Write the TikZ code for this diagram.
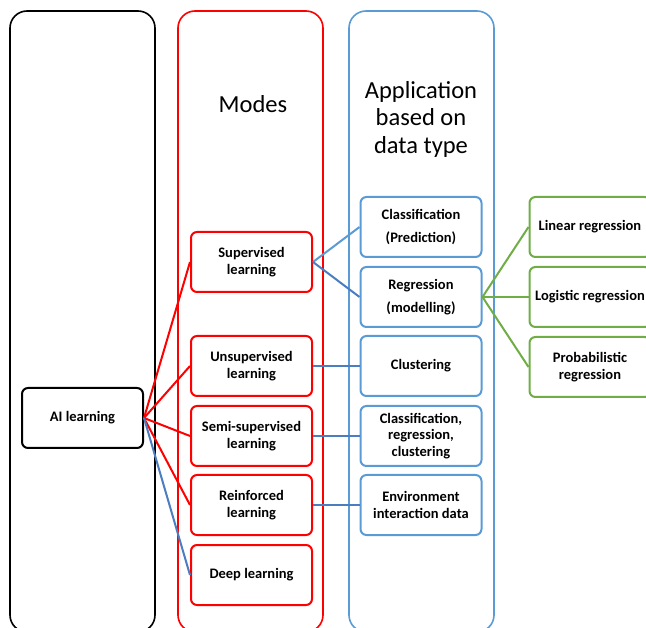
\documentclass[tikz,border=0pt]{standalone}
\usepackage{fontspec}
\setmainfont{Carlito}
\definecolor{boxred}{RGB}{255,0,0}
\definecolor{boxblue}{RGB}{91,155,213}
\definecolor{lineblue}{RGB}{74,126,192}
\definecolor{boxgreen}{RGB}{112,173,71}
\tikzset{
  column/.style={draw,line width=1.6pt,rounded corners=17pt,minimum width=145pt,minimum height=621pt},
  item/.style={draw,line width=2pt,rounded corners=6pt,minimum width=121pt,minimum height=60pt,
    align=center,text=black,font=\fontsize{14.5}{16.5}\selectfont\bfseries},
  title/.style={align=center,font=\fontsize{24.5}{27.5}\selectfont},
  link/.style={line width=2pt}
}

\begin{document}
\begin{tikzpicture}[x=1pt,y=-1pt]
\clip (0,0) rectangle (646,628);
% columns
\node[column,draw=black] (colai) at (82.5,321.5){};
\node[column,draw=boxred] (colmodes) at (250.5,321.5){};
\node[column,draw=boxblue] (colapp) at (421.5,321.5){};
\node[title] (tmodes) at (253,104){Modes};
\node[title] (tapp) at (421,119){Application\\based on\\data type};
% AI learning
\node[item,draw=black] (ai) at (82.5,418){AI learning};
% modes
\node[item,draw=boxred] (sup) at (251.5,262){Supervised\\learning};
\node[item,draw=boxred] (unsup) at (251.5,366){Unsupervised\\learning};
\node[item,draw=boxred] (semi) at (251.5,436){Semi-supervised\\learning};
\node[item,draw=boxred] (reinf) at (251.5,505){Reinforced\\learning};
\node[item,draw=boxred] (deep) at (251.5,575){Deep learning};
% applications
\node[item,draw=boxblue] (class) at (421,227){Classification\\[6pt](Prediction)};
\node[item,draw=boxblue] (regr) at (421,297){Regression\\[6pt](modelling)};
\node[item,draw=boxblue] (clust) at (421,366){Clustering};
\node[item,draw=boxblue] (mixed) at (421,436){Classification,\\regression,\\clustering};
\node[item,draw=boxblue] (env) at (421,505){Environment\\interaction data};
% regression types
\node[item,draw=boxgreen] (lin) at (590,227){Linear regression};
\node[item,draw=boxgreen] (logi) at (590,297){Logistic regression};
\node[item,draw=boxgreen] (prob) at (590,367){Probabilistic\\regression};
% connectors
\foreach \m in {sup,unsup,semi,reinf}
  \draw[link,boxred] (ai.east) -- (\m.west);
\draw[link,lineblue] (ai.east) -- (deep.west);
\draw[link,boxblue] (sup.east) -- (class.west);
\draw[link,lineblue] (sup.east) -- (regr.west);
\draw[link,lineblue] (unsup.east) -- (clust.west);
\draw[link,lineblue] (semi.east) -- (mixed.west);
\draw[link,lineblue] (reinf.east) -- (env.west);
\foreach \g in {lin,logi,prob}
  \draw[link,boxgreen] (regr.east) -- (\g.west);
\end{tikzpicture}
\end{document}
